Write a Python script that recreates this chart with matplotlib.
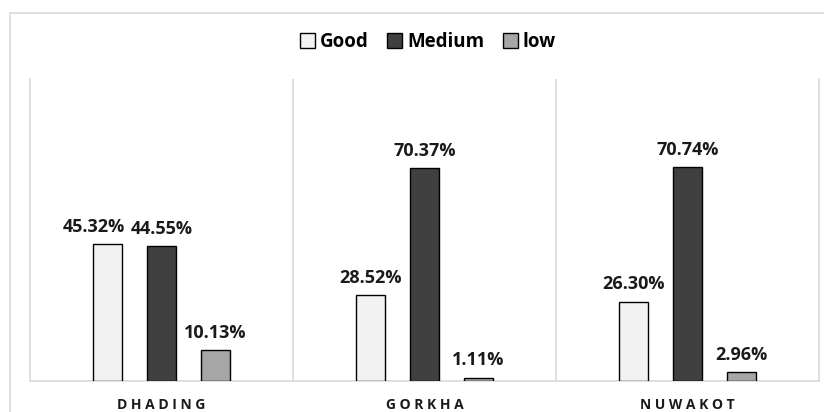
import matplotlib
matplotlib.use("Agg")
import matplotlib.pyplot as plt
import numpy as np
from matplotlib.patches import Rectangle

plt.rcParams["font.family"] = ["Open Sans", "DejaVu Sans"]

# ── data ─────────────────────────────────────────────────────────
districts = ["DHADING", "GORKHA", "NUWAKOT"]
series = ["Good", "Medium", "low"]
good = [45.32, 28.52, 26.30]
medium = [44.55, 70.37, 70.74]
low = [10.13, 1.11, 2.96]
colors = ["#f2f2f2", "#404040", "#a6a6a6"]

fig = plt.figure(figsize=(8.24, 4.12), dpi=100)
ax = fig.add_axes([30 / 824, 31 / 412, 789 / 824, 302 / 412])

# light outer chart border
fig.patches.append(Rectangle((10 / 824, -0.1), 1.0, (412 - 13) / 412 + 0.1,
                             transform=fig.transFigure, fill=False,
                             edgecolor="#d9d9d9", linewidth=1.2))

x = np.arange(len(districts))
offset = 0.205
width = 0.112
for i, (vals, name) in enumerate(zip([good, medium, low], series)):
    bars = ax.bar(x + (i - 1) * offset, vals, width, color=colors[i],
                  edgecolor="black", linewidth=1.0, label=name, zorder=3)
    for j, (b, v) in enumerate(zip(bars, vals)):
        # Excel nudged the crowded DHADING "Good" label to the left
        dx = -10 if (i == 0 and j == 0) else 0
        ax.annotate(f"{v:.2f}%", (b.get_x() + b.get_width() / 2, v),
                    xytext=(dx, 6), textcoords="offset points",
                    ha="center", va="bottom", fontsize=13, fontweight="bold",
                    color="#1a1a1a")

ax.set_xlim(-0.5, 2.5)
ax.set_ylim(0, 100)

# category separators
for sep in [0.5, 1.5]:
    ax.axvline(sep, color="#d9d9d9", linewidth=1.2, zorder=1)
for s in ["left", "right", "bottom"]:
    ax.spines[s].set_color("#d9d9d9")
    ax.spines[s].set_linewidth(1.2)
ax.spines["top"].set_visible(False)

ax.set_yticks([])
ax.set_xticks(x)
ax.set_xticklabels([" ".join(d) for d in districts], fontsize=10,
                   fontweight="bold", color="#1a1a1a")
ax.tick_params(axis="x", length=0, pad=12)

fig.legend(loc="center", bbox_to_anchor=(428 / 824, 1 - 42 / 412), ncol=3,
           frameon=False, handlelength=0.8, handleheight=0.8,
           handletextpad=0.25, columnspacing=1.0,
           prop={"size": 13.5, "weight": "bold"})

fig.savefig("out.png", dpi=100)
